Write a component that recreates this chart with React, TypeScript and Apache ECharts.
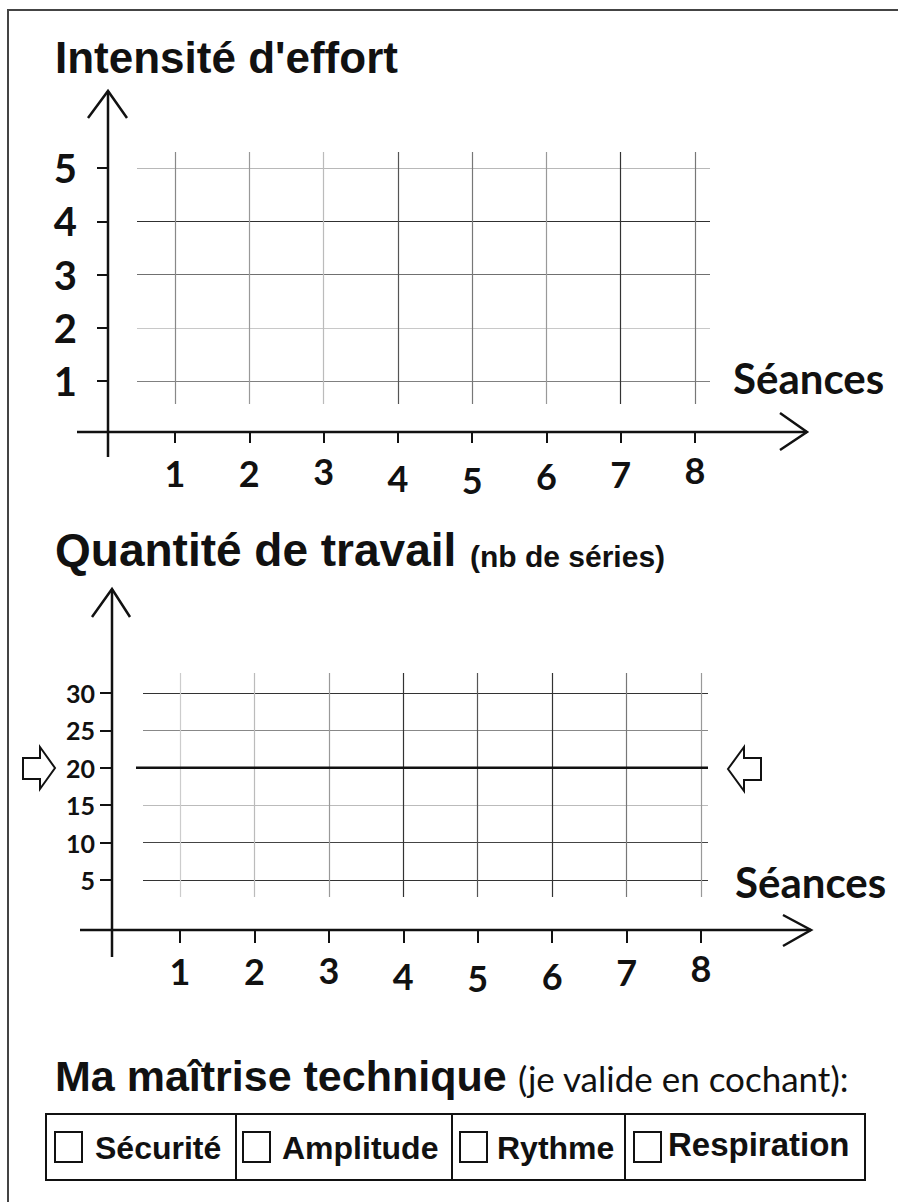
import React, { useEffect, useRef } from 'react';
import * as echarts from 'echarts';

// ---- data ----
const sessions = [1, 2, 3, 4, 5, 6, 7, 8];
const intensityLevels = [1, 2, 3, 4, 5];
const workLevels = [5, 10, 15, 20, 25, 30];
const workTarget = 20;
const criteria = ['Sécurité', 'Amplitude', 'Rythme', 'Respiration'];

const intensityTitle = "Intensité d'effort";
const workTitle = 'Quantité de travail';
const workSubtitle = '(nb de séries)';
const xAxisName = 'Séances';
const masteryTitle = 'Ma maîtrise technique';
const masteryHint = '(je valide en cochant):';

// ---- styles / layout ----
const ARIAL = "'Liberation Sans', Arial, sans-serif";
const CALIBRI = "Lato, 'Open Sans', sans-serif";
const INK = '#111';
// hand-drawn look: small vertical shifts of the session labels
const labelShift1 = [3, 3, 1, 8, 10, 6, 4, 0];
const labelShift2 = [3, 3, 2, 8, 10, 8, 4, 0];

const hiddenAxis = (gridIndex: number, min: number, max: number) => ({
  type: 'value', gridIndex, show: false, min, max,
});

const levelRange = (levels: number[]) => ({
  min: levels[0],
  max: levels[levels.length - 1],
  interval: levels[1] - levels[0],
});

// axis that only draws the split (grid) lines
const splitY = (gridIndex: number, levels: number[], colors: string[]) => ({
  type: 'value', gridIndex, position: 'left', ...levelRange(levels),
  axisLine: { show: false }, axisTick: { show: false }, axisLabel: { show: false },
  splitLine: { show: true, lineStyle: { color: colors, width: 1.2 } },
});
const splitX = (gridIndex: number, colors: string[]) => ({
  type: 'value', gridIndex, position: 'bottom', ...levelRange(sessions),
  axisLine: { show: false }, axisTick: { show: false }, axisLabel: { show: false },
  splitLine: { show: true, lineStyle: { color: colors, width: 1.2 } },
});

// axis that only draws ticks and labels
const tickY = (gridIndex: number, levels: number[], tickLen: number, fontSize: number, margin: number) => ({
  type: 'value', gridIndex, position: 'left', ...levelRange(levels),
  axisLine: { show: false },
  axisTick: { show: true, inside: false, length: tickLen, lineStyle: { color: INK, width: 2 } },
  axisLabel: { show: true, margin, color: INK, fontSize, fontWeight: 'bold', fontFamily: CALIBRI },
  splitLine: { show: false },
});
const tickX = (gridIndex: number, tickLen: number, margin: number, shifts: number[]) => {
  const rich: any = {};
  shifts.forEach((s, i) => {
    rich['p' + i] = {
      padding: [s, 0, 0, 0], color: INK, fontSize: 36, fontWeight: 'bold', fontFamily: CALIBRI,
    };
  });
  return {
    type: 'value', gridIndex, position: 'bottom', ...levelRange(sessions),
    axisLine: { show: false },
    axisTick: { show: true, inside: false, length: tickLen, lineStyle: { color: INK, width: 2 } },
    axisLabel: {
      show: true, margin, color: INK, fontSize: 36, fontWeight: 'bold', fontFamily: CALIBRI,
      formatter: (v: number) => {
        const i = sessions.indexOf(v);
        return i >= 0 ? `{p${i}|${v}}` : String(v);
      },
      rich,
    },
    splitLine: { show: false },
  };
};

const stroke = (points: number[][], lw = 2.5) => ({
  type: 'polyline',
  shape: { points },
  style: { stroke: INK, lineWidth: lw, fill: null },
  silent: true,
});

const text = (t: string, x: number, y: number, font: string, align = 'left') => ({
  type: 'text',
  x, y,
  style: { text: t, font, fill: INK, textAlign: align, textVerticalAlign: 'middle' },
  silent: true,
});

const cellEdges = [46, 236, 452, 625, 865];
const boxX = [55, 243, 460, 634];
const labelX = [95, 282, 497, 668];
const TABLE_TOP = 1114;
const TABLE_BOTTOM = 1180;

const g = (left: number, top: number, width: number, height: number) => ({
  left, top, width, height, outerBoundsMode: 'none',
});

export default function App() {
  const ref = useRef<HTMLDivElement>(null);

  useEffect(() => {
    document.body.style.margin = '0';
    document.body.style.overflow = 'hidden';
    if (!ref.current) return;
    const chart = echarts.init(ref.current, undefined, { renderer: 'svg' });

    const tableGraphics: any[] = [
      {
        type: 'rect',
        shape: { x: cellEdges[0], y: TABLE_TOP, width: cellEdges[4] - cellEdges[0], height: TABLE_BOTTOM - TABLE_TOP },
        style: { stroke: INK, lineWidth: 2, fill: null },
        silent: true,
      },
      ...cellEdges.slice(1, -1).map((x) => stroke([[x, TABLE_TOP], [x, TABLE_BOTTOM]], 2)),
      ...criteria.map((c, i) => ({
        type: 'rect',
        shape: { x: boxX[i], y: 1132, width: 27, height: 30 },
        style: { stroke: INK, lineWidth: 2, fill: '#fff' },
        silent: true,
      })),
      ...criteria.map((c, i) => text(c, labelX[i], i === 3 ? 1144 : 1148, `bold ${i === 3 ? 33 : 32}px ${ARIAL}`)),
    ];

    const option: any = {
      animation: false,
      backgroundColor: '#fff',
      grid: [
        // chart 1
        g(137, 168, 573, 213), // 0: horizontal lines
        g(175, 152, 520, 252), // 1: vertical lines
        g(108, 168, 100, 213), // 2: y ticks
        g(175, 300, 520, 132), // 3: x ticks
        // chart 2
        g(143, 693, 565, 187), // 4: horizontal lines
        g(180, 673, 521, 224), // 5: vertical lines
        g(112, 693, 100, 187), // 6: y ticks
        g(180, 800, 521, 130), // 7: x ticks
        g(136, 693, 572, 187), // 8: target line
      ],
      xAxis: [
        hiddenAxis(0, 0, 1),
        splitX(1, ['#888', '#999', '#bbb', '#555', '#777', '#999', '#333', '#777']),
        hiddenAxis(2, 0, 1),
        tickX(3, 11, 20, labelShift1),
        hiddenAxis(4, 0, 1),
        splitX(5, ['#ccc', '#bbb', '#999', '#333', '#555', '#333', '#777', '#999']),
        hiddenAxis(6, 0, 1),
        tickX(7, 13, 20, labelShift2),
        hiddenAxis(8, 0, 1),
      ],
      yAxis: [
        splitY(0, intensityLevels, ['#808080', '#c8c8c8', '#707070', '#303030', '#b8b8b8']),
        hiddenAxis(1, 0, 1),
        tickY(2, intensityLevels, 11, 40, 31),
        hiddenAxis(3, 0, 1),
        splitY(4, workLevels, ['#333', '#444', '#bbb', '#888', '#888', '#333']),
        hiddenAxis(5, 0, 1),
        tickY(6, workLevels, 12, 25, 17),
        hiddenAxis(7, 0, 1),
        hiddenAxis(8, workLevels[0], workLevels[workLevels.length - 1]),
      ],
      series: [
        {
          type: 'line',
          xAxisIndex: 8,
          yAxisIndex: 8,
          data: [[0, workTarget], [1, workTarget]],
          symbol: 'none',
          silent: true,
          lineStyle: { color: INK, width: 2.5 },
        },
      ],
      graphic: {
        elements: [
          // page frame
          {
            type: 'rect',
            shape: { x: 8, y: 10, width: 900, height: 1200 },
            style: { stroke: '#444', lineWidth: 2, fill: null },
            silent: true,
          },
          // chart 1 axes
          stroke([[108, 457], [108, 91]]),
          stroke([[88, 118], [108, 91], [127, 118]]),
          stroke([[77, 432], [807, 432]]),
          stroke([[780, 413], [807, 432], [780, 450]]),
          // chart 2 axes
          stroke([[112, 957], [112, 589]]),
          stroke([[92, 617], [112, 589], [130, 617]]),
          stroke([[80, 930], [811, 930]]),
          stroke([[783, 915], [811, 930], [783, 946]]),
          // target arrows
          {
            type: 'polygon',
            shape: { points: [[23, 758], [40, 758], [40, 747], [55, 768], [40, 789], [40, 779], [23, 779]] },
            style: { stroke: INK, lineWidth: 2, fill: '#fff' },
            silent: true,
          },
          {
            type: 'polygon',
            shape: { points: [[761, 758], [744, 758], [744, 747], [728, 769], [744, 791], [744, 780], [761, 780]] },
            style: { stroke: INK, lineWidth: 2, fill: '#fff' },
            silent: true,
          },
          // titles
          text(intensityTitle, 55, 57, `bold 44px ${ARIAL}`),
          text(xAxisName, 733, 378, `bold 42px ${CALIBRI}`),
          text(workTitle, 55, 550, `bold 46px ${ARIAL}`),
          text(workSubtitle, 470, 556, `bold 30px ${ARIAL}`),
          text(xAxisName, 735, 882, `bold 42px ${CALIBRI}`),
          text(masteryTitle, 55, 1076, `bold 43px ${ARIAL}`),
          text(masteryHint, 518, 1078, `35px ${CALIBRI}`),
          ...tableGraphics,
        ],
      },
    };

    chart.setOption(option);
    return () => chart.dispose();
  }, []);

  return <div ref={ref} style={{ width: 898, height: 1202 }} />;
}
